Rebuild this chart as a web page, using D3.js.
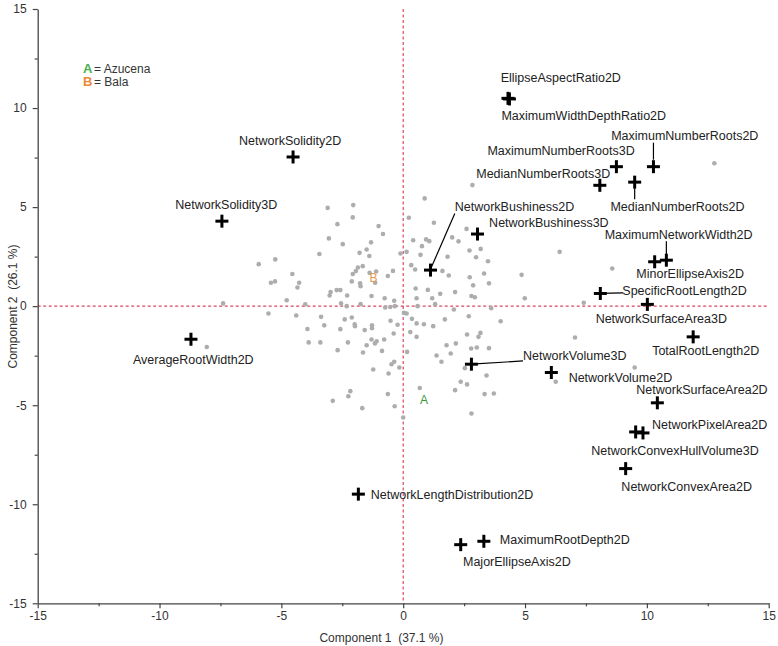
<!DOCTYPE html>
<html>
<head>
<meta charset="utf-8">
<script src="https://cdn.jsdelivr.net/npm/d3@7"></script>
<style>
  html, body { margin: 0; padding: 0; background: #fff; }
  svg { display: block; font-family: "Liberation Sans", Arial, Helvetica, sans-serif; }
</style>
</head>
<body>
<svg id="chart" width="778" height="646"></svg>
<script>
// ---------- DATA ----------
const xTicks = [-15, -10, -5, 0, 5, 10, 15];
const yTicks = [-15, -10, -5, 0, 5, 10, 15];
const minorTicks = [-12.5, -7.5, -2.5, 2.5, 7.5, 12.5];
const xTitle = "Component 1\u00a0\u00a0(37.1 %)";
const yTitle = "Component 2\u00a0\u00a0(26.1 %)";

// sample scores (grey dots)
const scoreX = [
  -3.10,-2.05,-2.07,-2.70,-3.05,-2.48,-1.01,-0.83,-1.32,-1.50,
  -1.79,-1.39,-3.44,-5.93,-5.25,-4.55,-5.43,-5.26,-4.27,-4.34,
  -4.78,-5.53,-4.39,-4.02,-7.39,-8.06,-3.02,-2.98,-2.73,-2.58,
  -2.30,-2.11,-2.07,-1.94,-1.86,-1.66,-1.77,-1.75,-1.38,-1.11,
  -1.15,-1.30,-0.63,-0.42,-0.76,-0.37,-2.32,-2.55,-1.75,-0.74,
  -0.53,-0.34,-3.37,-3.24,-3.93,-2.40,-2.11,-1.99,-1.98,-2.58,
  -1.58,-1.28,-1.28,-0.52,-0.23,-0.39,-3.88,-3.40,-2.27,-2.69,
  -1.50,-1.30,-1.16,-1.09,-0.78,-0.87,-1.65,-1.23,-0.60,-0.48,
  -0.37,-0.16,0.16,
  0.23,0.88,1.26,0.41,0.94,1.07,0.77,0.71,0.14,-0.11,
  0.33,0.49,1.82,2.01,1.61,1.87,0.51,1.01,1.52,0.55,
  1.19,1.31,0.59,0.03,0.14,0.36,0.55,0.85,1.23,1.71,
  0.29,0.55,1.78,1.37,1.95,1.57,2.16,
  2.84,2.60,2.27,2.72,3.18,2.99,3.48,6.42,2.73,3.32,
  4.86,2.13,2.87,3.52,2.80,2.94,4.99,3.61,2.08,7.41,
  2.69,4.00,2.62,3.09,3.17,7.05,
  2.79,3.02,3.52,2.53,3.42,2.36,2.62,0.68,2.13,3.34,3.72,2.80,0.00,6.26,
  -2.17,-2.25,-2.89,-1.68,-0.63,-0.35,
  8.58,9.50,12.77
];
const scoreY = [
  4.96,5.10,4.48,4.14,3.42,3.13,4.04,3.64,3.22,2.86,
  2.69,2.53,2.63,2.12,2.36,1.62,1.18,1.25,1.18,0.94,
  0.30,-0.37,-0.47,0.09,0.14,-2.06,0.54,0.71,0.81,0.81,
  0.54,1.25,1.62,1.77,1.95,2.02,1.15,1.01,1.68,1.75,
  1.18,0.51,1.52,1.78,0.40,0.27,0.00,0.14,0.10,-0.07,
  -0.04,0.00,-0.54,-0.97,-1.15,-0.67,-0.57,-0.91,-1.01,-1.16,
  -1.21,-0.97,-1.11,-0.74,-0.94,-1.38,-1.83,-1.83,-1.83,-2.22,
  -1.97,-1.68,-1.88,-1.77,-1.68,-2.26,-2.34,-3.20,-3.40,-2.93,
  -2.81,-3.10,-2.31,
  4.46,5.44,4.21,3.33,3.37,3.28,3.03,2.59,2.74,2.66,
  2.07,1.85,2.49,3.47,1.78,1.55,0.89,0.82,0.62,0.40,
  0.40,0.10,0.00,-0.34,-0.37,-0.64,-0.87,-0.91,-1.01,-0.67,
  -1.31,-1.55,-1.97,-2.49,-2.39,-2.81,-1.88,
  6.11,3.90,3.27,2.81,2.89,2.47,2.27,2.74,1.46,1.65,
  1.58,0.71,1.05,1.15,0.51,0.45,0.40,-0.10,-0.17,0.17,
  -0.51,-0.76,-1.43,-1.55,-1.35,-1.58,
  -2.14,-2.09,-2.12,-3.13,-3.50,-3.82,-3.95,-4.13,-4.24,-4.44,-4.41,-5.42,-5.62,-3.82,
  -4.29,-4.55,-4.78,-5.15,-4.44,-5.05,
  1.90,-3.10,7.21
];

// variable loadings (black crosses)
const loadingNames = [
  "EllipseAspectRatio2D","MaximumWidthDepthRatio2D","MaximumNumberRoots2D","MaximumNumberRoots3D",
  "MedianNumberRoots3D","MedianNumberRoots2D","NetworkBushiness2D","NetworkBushiness3D",
  "MaximumNetworkWidth2D","MinorEllipseAxis2D","SpecificRootLength2D","NetworkSurfaceArea3D",
  "TotalRootLength2D","NetworkVolume3D","NetworkVolume2D","NetworkSurfaceArea2D",
  "NetworkPixelArea2D","NetworkConvexHullVolume3D","NetworkConvexArea2D","NetworkLengthDistribution2D",
  "MajorEllipseAxis2D","MaximumRootDepth2D","NetworkSolidity2D","NetworkSolidity3D","AverageRootWidth2D"
];
const loadingX = [4.30,4.36,10.27,8.75,8.07,9.50,1.12,3.05,10.80,10.32,8.09,10.02,11.90,2.80,6.08,10.43,9.84,9.54,9.13,-1.84,2.36,3.31,-4.52,-7.44,-8.71];
const loadingY = [10.49,10.46,7.04,7.04,6.10,6.26,1.82,3.64,2.32,2.24,0.64,0.09,-1.55,-2.93,-3.35,-4.88,-6.40,-6.35,-8.20,-9.49,-12.04,-11.87,7.53,4.29,-1.67];

// genotype markers
const genotypeLetters = ["A", "B"];
const genotypeNames = ["Azucena", "Bala"];
const genotypeX = [0.85, -1.22];
const genotypeY = [-4.75, 1.45];

// ---------- LAYOUT (pixel offsets of labels relative to their cross) ----------
const labelDx = [-7.3,-8,-42.3,-129,-123.6,-24.3,24.3,11.6,-61.7,-18.3,22,-51.7,-41,51.6,17.3,-21,9,-44.3,-4.3,12.4,2.3,16,-54,-46.7,-58];
const labelDy = [-21,17,-30.7,-16,-12,24,-63.3,-11.3,-26,11.6,-3.3,14.7,14,-9,5,-12.7,-8.7,19,18.4,0,17.4,-1.7,-16,-17,20];
const leaders = {
  2: [0,-24,0,-7],
  5: [0,6,0,17],
  6: [1,-3,24.3,-56.7],
  8: [0,-19,0,-5],
  10: [0,0,22.6,-0.6],
  13: [0,0,51.6,-3.3]
};

// ---------- DRAW ----------
const svg = d3.select("#chart");
const x = d3.scaleLinear().domain([-15, 15]).range([37.7, 768.7]);
const y = d3.scaleLinear().domain([-15, 15]).range([603.3, 9]);
const axisColor = "#444";
const textColor = "#333";

// reference dashed lines
svg.append("line")
  .attr("x1", x(0)).attr("x2", x(0)).attr("y1", y(15)).attr("y2", y(-15))
  .attr("stroke", "#d9495f").attr("stroke-width", 1.2).attr("stroke-dasharray", "3,2.5");
svg.append("line")
  .attr("x1", x(-15)).attr("x2", x(15)).attr("y1", y(0)).attr("y2", y(0))
  .attr("stroke", "#d9495f").attr("stroke-width", 1.2).attr("stroke-dasharray", "3,2.5");

// axes
const gx = svg.append("g").attr("transform", `translate(0,${y(-15)})`)
  .call(d3.axisBottom(x).tickValues(xTicks).tickSize(5).tickSizeOuter(0).tickPadding(3).tickFormat(d3.format("d")));
const gxm = svg.append("g").attr("transform", `translate(0,${y(-15)})`)
  .call(d3.axisBottom(x).tickValues(minorTicks).tickSize(3).tickSizeOuter(0).tickFormat(""));
gxm.select(".domain").remove();
const gy = svg.append("g").attr("transform", `translate(${x(-15)},0)`)
  .call(d3.axisLeft(y).tickValues(yTicks).tickSize(5).tickSizeOuter(0).tickPadding(6).tickFormat(d3.format("d")));
const gym = svg.append("g").attr("transform", `translate(${x(-15)},0)`)
  .call(d3.axisLeft(y).tickValues(minorTicks).tickSize(3).tickSizeOuter(0).tickFormat(""));
gym.select(".domain").remove();
[gx, gy, gxm, gym].forEach(g => {
  g.selectAll(".domain").attr("stroke", axisColor).attr("stroke-width", 1.3);
  g.selectAll(".tick line").attr("stroke", axisColor).attr("stroke-width", 1.2);
  g.selectAll("text").attr("fill", textColor).style("font-size", "12px")
    .style("font-family", '"Liberation Sans", Arial, sans-serif');
});
gx.selectAll(".tick text").text(d => d < 0 ? "-" + Math.abs(d) : d);
gy.selectAll(".tick text").text(d => d < 0 ? "-" + Math.abs(d) : d);

// axis titles
svg.append("text").attr("x", 381.5).attr("y", 638).attr("dy", "0.35em")
  .attr("text-anchor", "middle").attr("fill", textColor).style("font-size", "12px").text(xTitle);
svg.append("text").attr("transform", "translate(13,306.5) rotate(-90)").attr("dy", "0.35em")
  .attr("text-anchor", "middle").attr("fill", textColor).style("font-size", "12px").text(yTitle);

// grey score dots
const scores = scoreX.map((v, i) => ({ x: v, y: scoreY[i] }));
svg.append("g").selectAll("circle").data(scores).join("circle")
  .attr("cx", d => x(d.x)).attr("cy", d => y(d.y)).attr("r", 2.3)
  .attr("fill", "#adadad");

// genotype letters in plot
const genoColors = ["#3a9a3a", "#e99a50"];
svg.append("g").selectAll("text").data(genotypeLetters).join("text")
  .attr("x", (d, i) => x(genotypeX[i])).attr("y", (d, i) => y(genotypeY[i]))
  .attr("dy", "0.35em").attr("text-anchor", "middle")
  .attr("fill", (d, i) => genoColors[i]).style("font-size", "12px").text(d => d);

// loadings
const loadings = loadingNames.map((n, i) => ({ name: n, x: loadingX[i], y: loadingY[i], i }));
const lg = svg.append("g");
// leader lines
Object.entries(leaders).forEach(([k, L]) => {
  const d = loadings[+k];
  lg.append("line")
    .attr("x1", x(d.x) + L[0]).attr("y1", y(d.y) + L[1])
    .attr("x2", x(d.x) + L[2]).attr("y2", y(d.y) + L[3])
    .attr("stroke", "#000").attr("stroke-width", 1.2);
});
const crosses = lg.selectAll("g.cross").data(loadings).join("g").attr("class", "cross")
  .attr("transform", d => `translate(${x(d.x)},${y(d.y)})`);
crosses.append("line").attr("x1", -6.5).attr("x2", 6.5).attr("y1", 0).attr("y2", 0)
  .attr("stroke", "#000").attr("stroke-width", 3);
crosses.append("line").attr("x1", 0).attr("x2", 0).attr("y1", -6.5).attr("y2", 6.5)
  .attr("stroke", "#000").attr("stroke-width", 3);
lg.selectAll("text.lab").data(loadings).join("text").attr("class", "lab")
  .attr("x", d => x(d.x) + labelDx[d.i]).attr("y", d => y(d.y) + labelDy[d.i])
  .attr("dy", "0.35em").attr("fill", "#222").style("font-size", "12.5px").text(d => d.name);

// legend
const leg = svg.append("g");
const legColors = ["#4caf50", "#ec8a35"];
genotypeLetters.forEach((L, i) => {
  const ty = 68.3 + i * 13.5;
  leg.append("text").attr("x", 83).attr("y", ty).attr("dy", "0.35em")
    .attr("fill", legColors[i]).style("font-size", "13px").style("font-weight", "bold").text(L);
  leg.append("text").attr("x", 94).attr("y", ty).attr("dy", "0.35em")
    .attr("fill", textColor).style("font-size", "12px").text("= " + genotypeNames[i]);
});
</script>
</body>
</html>
